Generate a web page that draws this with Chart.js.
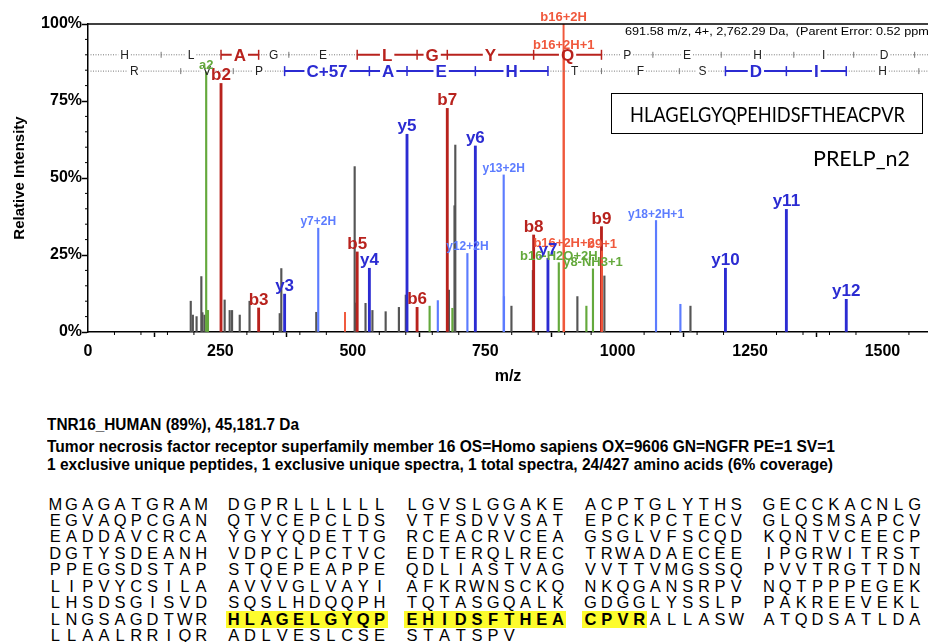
<!DOCTYPE html>
<html>
<head>
<meta charset="utf-8">
<script src="https://cdn.jsdelivr.net/npm/chart.js@4.4.1/dist/chart.umd.min.js"></script>
<style>
  body { margin: 0; background: #fff; }
  #page { position: relative; width: 928px; height: 642px; overflow: hidden; font-family: "Liberation Sans", Arial, sans-serif; color: #000; }
  #spec { position: absolute; left: 0; top: 0; }
  .t { position: absolute; white-space: nowrap; transform-origin: left center; }
  #pepbox { position: absolute; left: 611px; top: 93px; width: 310px; height: 39px; border: 1.5px solid #000; }
  .aa { position: absolute; width: 16.2px; text-align: center; font-size: 16.5px; line-height: 17px; height: 17px; }
  .hl { background: #fdfc2c; font-weight: bold; }
</style>
</head>
<body>
<div id="page">
  <canvas id="spec" width="928" height="392"></canvas>
  <div id="prec" class="t" style="left:625px;top:25px;font-size:11.5px;line-height:13px" data-w="308">691.58 m/z, 4+, 2,762.29 Da,&nbsp; (Parent Error: 0.52 ppm)</div>
  <div id="pepbox"></div>
  <div class="t" style="left:630px;top:103px;font-family:Lato,'Open Sans',sans-serif;font-size:21px;line-height:21px" data-w="275">HLAGELGYQPEHIDSFTHEACPVR</div>
  <div class="t" style="left:813px;top:147px;font-family:Lato,'Open Sans',sans-serif;font-size:22px;line-height:22px" data-w="97">PRELP_n2</div>
  <div class="t" style="left:47px;top:416.5px;font-size:16px;line-height:16px;font-weight:bold" data-w="252">TNR16_HUMAN (89%), 45,181.7 Da</div>
  <div class="t" style="left:47px;top:439px;font-size:16px;line-height:16px;font-weight:bold" data-w="788">Tumor necrosis factor receptor superfamily member 16 OS=Homo sapiens OX=9606 GN=NGFR PE=1 SV=1</div>
  <div class="t" style="left:47px;top:457px;font-size:16px;line-height:16px;font-weight:bold" data-w="786">1 exclusive unique peptides, 1 exclusive unique spectra, 1 total spectra, 24/427 amino acids (6% coverage)</div>
  <div id="seq"></div>
</div>
<script>
// ---- peaks: m/z and relative intensity (%) ----
const bMz = [251.15, 322.19, 508.25, 621.34, 678.36, 841.42, 969.48];
const bInt = [80.7, 7.8, 26, 8, 72.6, 31.5, 34.2];
const bLabels = ["b2", "b3", "b5", "b6", "b7", "b8", "b9"];

const yMz = [371.24, 531.27, 602.31, 731.35, 868.41, 1203.56, 1318.59, 1431.67];
const yInt = [12.3, 20.7, 64.2, 60.4, 23.9, 20.7, 39.8, 10.6];
const yLabels = ["y3", "y4", "y5", "y6", "y7", "y10", "y11", "y12"];

const y2Mz = [434.71, 660.5, 716.34, 784.87, 785.4, 1072.49, 1118.5];
const y2Int = [33.7, 10.2, 25.5, 51, 11.5, 36.2, 9];
const y2Labels = ["y7+2H", "", "y12+2H", "y13+2H", "", "y18+2H+1", ""];

const b2Mz = [485.24, 897.93, 898.43, 898.93, 970.48];
const b2Int = [6.4, 100, 91, 26.6, 26.3];
const b2Labels = ["", "b16+2H", "b16+2H+1", "b16+2H+2", "b9+1"];

const gMz = [223.16, 226.5, 645, 688, 888.92, 941, 953.43];
const gInt = [84.5, 7, 8.4, 7.7, 22.5, 8.4, 20.5];
const gLabels = ["a2", "", "", "", "b16-H2O+2H", "", "y8-NH3+1"];

const otherMz = [194, 198, 205, 214, 216, 220, 225, 258, 267.5, 272, 286.5, 305, 362, 365, 431,
  503.5, 505, 524, 537, 562, 587, 600, 681.5, 692, 693.5, 799.5, 840, 924, 975, 1137.5];
const otherInt = [10, 5.5, 5, 18, 6.3, 5.5, 7, 10.4, 7, 7, 5.5, 10, 6, 20.6, 6.4,
  53.7, 9.4, 9.3, 7, 6.6, 8, 12, 13.6, 41, 60.7, 8.4, 20, 11.5, 18.2, 8.4];

// ---- fragment ladders ----
const topLetters = ["H", "L", "A", "G", "E", "L", "G", "Y", "Q", "P", "E", "H", "I", "D", "S"];
const topBounds = [0, 138.07, 251.15, 322.19, 379.21, 508.25, 621.34, 678.36, 841.42, 969.48, 1066.53, 1195.57, 1332.63, 1445.72, 1560.74, 1647.78];
const topHit = [0, 0, 1, 0, 0, 1, 1, 1, 1, 0, 0, 0, 0, 0, 0];
const botLetters = ["R", "V", "P", "C+57", "A", "E", "H", "T", "F", "S", "D", "I", "H"];
const botBounds = [0, 175.12, 274.19, 371.24, 531.27, 602.31, 731.35, 868.41, 969.46, 1116.53, 1203.56, 1318.59, 1431.67, 1568.73];
const botHit = [0, 0, 0, 1, 1, 1, 1, 0, 0, 0, 1, 1, 0];

const xTicks = [0, 250, 500, 750, 1000, 1250, 1500];
const yTicks = [0, 25, 50, 75, 100];

// ---- protein sequence ----
const seqRows = [
  "MGAGATGRAMDGPRLLLLLLLGVSLGGAKEACPTGLYTHSGECCKACNLG",
  "EGVAQPCGANQTVCEPCLDSVTFSDVVSATEPCKPCTECVGLQSMSAPCV",
  "EADDAVCRCAYGYYQDETTGRCEACRVCEAGSGLVFSCQDKQNTVCEECP",
  "DGTYSDEANHVDPCLPCTVCEDTERQLRECTRWADAECEEIPGRWITRST",
  "PPEGSDSTAPSTQEPEAPPEQDLIASTVAGVVTTVMGSSQPVVTRGTTDN",
  "LIPVYCSILAAVVVGLVAYIAFKRWNSCKQNKQGANSRPVNQTPPPEGEK",
  "LHSDSGISVDSQSLHDQQPHTQTASGQALKGDGGLYSSLPPAKREEVEKL",
  "LNGSAGDTWRHLAGELGYQPEHIDSFTHEACPVRALLASWATQDSATLDA",
  "LLAALRRIQRADLVESLCSESTATSPV"
];
const peptide = "HLAGELGYQPEHIDSFTHEACPVR";

const FONT = '"Liberation Sans", Arial, sans-serif';
const RED = "#b8221d", BLUE = "#2b2bd2", LBLUE = "#5c7cff", ORANGE = "#f0583c", GREEN = "#64a93c", GRAY = "#555555";

const pts = (mz, it) => mz.map((m, i) => ({ x: m, y: it[i] }));

const datasets = [
  { data: pts(b2Mz, b2Int), labels: b2Labels, backgroundColor: ORANGE, barThickness: 1.3, order: 0, labelFont: "bold 13px " + FONT, labelColor: ORANGE },
  { data: pts(bMz, bInt), labels: bLabels, backgroundColor: RED, barThickness: 2.2, order: 1, labelFont: "bold 17px " + FONT, labelColor: RED },
  { data: pts(yMz, yInt), labels: yLabels, backgroundColor: BLUE, barThickness: 2.2, order: 2, labelFont: "bold 17px " + FONT, labelColor: BLUE },
  { data: pts(y2Mz, y2Int), labels: y2Labels, backgroundColor: LBLUE, barThickness: 1.5, order: 3, labelFont: "bold 12px " + FONT, labelColor: LBLUE },
  { data: pts(gMz, gInt), labels: gLabels, backgroundColor: GREEN, barThickness: 1.5, order: 4, labelFont: "bold 13px " + FONT, labelColor: GREEN },
  { data: pts(otherMz, otherInt), backgroundColor: GRAY, barThickness: 1.5, order: 5 }
].map(d => Object.assign(d, { grouped: false, borderWidth: 0 }));

function drawLadder(ctx, xs, py, letters, bounds, hit, color, area) {
  const px = bounds.map(v => xs.getPixelForValue(v));
  letters.forEach((ch, i) => {
    const x0 = px[i], x1 = px[i + 1], cx = (x0 + x1) / 2;
    const size = hit[i] ? 17 : 12;
    ctx.font = (hit[i] ? "bold " : "") + size + "px " + FONT;
    const tw = ctx.measureText(ch).width;
    ctx.beginPath();
    if (hit[i]) {
      ctx.setLineDash([]); ctx.strokeStyle = color; ctx.lineWidth = 2;
    } else {
      ctx.setLineDash([1, 1.5]); ctx.strokeStyle = "#777"; ctx.lineWidth = 1;
    }
    ctx.moveTo(x0, py); ctx.lineTo(cx - tw / 2 - 2, py);
    ctx.moveTo(cx + tw / 2 + 2, py); ctx.lineTo(x1, py);
    ctx.stroke();
    ctx.fillStyle = hit[i] ? color : "#222";
    ctx.textAlign = "center"; ctx.textBaseline = "alphabetic";
    ctx.fillText(ch, cx, py + size * 0.36);
  });
  ctx.setLineDash([1, 1.5]); ctx.strokeStyle = "#777"; ctx.lineWidth = 1;
  ctx.beginPath(); ctx.moveTo(px[px.length - 1], py); ctx.lineTo(area.right, py); ctx.stroke();
  ctx.setLineDash([]);
  for (let i = 1; i < px.length; i++) {
    const colored = hit[i - 1] || hit[i];
    const h = colored ? 5 : 3;
    ctx.strokeStyle = colored ? color : "#777";
    ctx.lineWidth = colored ? 1.5 : 1;
    ctx.beginPath(); ctx.moveTo(px[i], py - h); ctx.lineTo(px[i], py + h); ctx.stroke();
  }
}

const annot = {
  id: "annot",
  afterDatasetsDraw(chart) {
    const { ctx, chartArea: a, scales: { x, y } } = chart;
    ctx.save();
    ctx.beginPath(); ctx.rect(a.left, 0, a.right - a.left, chart.height); ctx.clip();
    drawLadder(ctx, x, y.getPixelForValue(90), topLetters, topBounds, topHit, RED, a);
    drawLadder(ctx, x, y.getPixelForValue(84.7), botLetters, botBounds, botHit, BLUE, a);
    chart.data.datasets.forEach((ds, di) => {
      if (!ds.labels) return;
      ctx.font = ds.labelFont; ctx.fillStyle = ds.labelColor;
      ctx.textAlign = "center"; ctx.textBaseline = "alphabetic";
      chart.getDatasetMeta(di).data.forEach((el, i) => {
        if (ds.labels[i]) ctx.fillText(ds.labels[i], el.x, el.y - 3);
      });
    });
    ctx.restore();
    // frame top + minor ticks
    ctx.save();
    ctx.strokeStyle = "#000"; ctx.lineWidth = 1.5;
    ctx.beginPath(); ctx.moveTo(a.left, a.top); ctx.lineTo(a.right, a.top); ctx.stroke();
    ctx.lineWidth = 1;
    ctx.beginPath();
    for (let v = 0; v <= 100; v += 5) {
      if (v % 25 === 0) continue;
      const py = y.getPixelForValue(v);
      ctx.moveTo(a.left - 3, py); ctx.lineTo(a.left, py);
    }
    for (let v = 50; v <= x.max; v += 50) {
      if (v % 250 === 0) continue;
      const px = x.getPixelForValue(v);
      ctx.moveTo(px, a.bottom); ctx.lineTo(px, a.bottom + 3);
    }
    ctx.stroke();
    ctx.restore();
  }
};

const axisFont = { family: FONT, size: 16, weight: "bold" };

new Chart(document.getElementById("spec"), {
  type: "bar",
  data: { datasets },
  options: {
    responsive: false,
    animation: false,
    devicePixelRatio: 1,
    layout: { padding: { top: 24, left: 0, right: 0, bottom: 0 } },
    plugins: { legend: { display: false }, tooltip: { enabled: false } },
    scales: {
      x: {
        type: "linear", min: 0, max: 1586, offset: false,
        afterBuildTicks: s => { s.ticks = xTicks.map(v => ({ value: v })); },
        afterFit: s => { s.height = 60; },
        grid: { drawOnChartArea: false, tickLength: 5, tickColor: "#000", tickWidth: 1.5 },
        border: { color: "#000", width: 1.5 },
        ticks: { font: axisFont, color: "#000", padding: 5, maxRotation: 0, autoSkip: false, callback: v => String(v) },
        title: { display: true, text: "m/z", font: axisFont, color: "#000", padding: { top: 0, bottom: 6 } }
      },
      y: {
        min: 0, max: 100,
        afterBuildTicks: s => { s.ticks = yTicks.map(v => ({ value: v })); },
        afterFit: s => { s.width = 88; },
        grid: { drawOnChartArea: false, tickLength: 6, tickColor: "#000", tickWidth: 1.5 },
        border: { color: "#000", width: 1.5 },
        ticks: { font: axisFont, color: "#000", padding: 0, callback: v => v + "%" },
        title: { display: true, text: "Relative Intensity", font: { family: FONT, size: 15, weight: "bold" }, color: "#000", padding: { top: 11, bottom: 0 } }
      }
    }
  },
  plugins: [annot]
});

// ---- sequence block ----
const seqEl = document.getElementById("seq");
const full = seqRows.join("");
const pStart = full.indexOf(peptide);
let html = "";
seqRows.forEach((row, r) => {
  for (let i = 0; i < row.length; i++) {
    const g = Math.floor(i / 10), k = i % 10;
    const idx = r * 50 + i;
    const left = 47.2 + g * 178.4 + k * 16.2;
    const top = 504 + r * 16.45 - 8.5;
    const hl = idx >= pStart && idx < pStart + peptide.length;
    html += `<span class="aa${hl ? " hl" : ""}" style="left:${left}px;top:${top}px">${row[i]}</span>`;
  }
});
seqEl.innerHTML = html;

// fit text widths
document.querySelectorAll("[data-w]").forEach(el => {
  const w = el.getBoundingClientRect().width;
  el.style.transform = `scaleX(${(+el.dataset.w / w).toFixed(4)})`;
});
</script>
</body>
</html>
